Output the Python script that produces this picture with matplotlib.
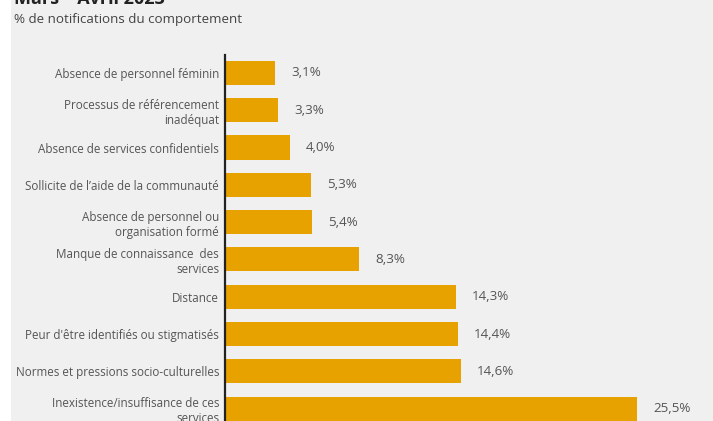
import matplotlib
matplotlib.use("Agg")
import matplotlib.pyplot as plt

categories = [
    "Absence de personnel féminin",
    "Processus de référencement\ninadéquat",
    "Absence de services confidentiels",
    "Sollicite de l\u2019aide de la communauté",
    "Absence de personnel ou\norganisation formé",
    "Manque de connaissance  des\nservices",
    "Distance",
    "Peur d'être identifiés ou stigmatisés",
    "Normes et pressions socio-culturelles",
    "Inexistence/insuffisance de ces\nservices",
]
values = [3.1, 3.3, 4.0, 5.3, 5.4, 8.3, 14.3, 14.4, 14.6, 25.5]
value_labels = ["3,1%", "3,3%", "4,0%", "5,3%", "5,4%", "8,3%", "14,3%", "14,4%", "14,6%", "25,5%"]
title = "Mars \u2013 Avril 2023"
subtitle = "% de notifications du comportement"

W, H = 713, 421
fig = plt.figure(figsize=(W / 100, H / 100), dpi=100)
fig.patch.set_facecolor("#f0f0f0")
# white strip on left
fig.patches.append(plt.Rectangle((0, 0), 11 / W, 1, transform=fig.transFigure,
                                 facecolor="white", edgecolor="none", zorder=0))

FONT = ["Open Sans", "DejaVu Sans"]
TXT = "#555555"

ax_left, ax_top, ax_bottom_px = 225, 55, 428
ax = fig.add_axes([ax_left / W, 1 - ax_bottom_px / H, (W - ax_left) / W, (ax_bottom_px - ax_top) / H])
ax.set_facecolor("none")

ypos = list(range(len(categories)))
ax.barh(ypos, values, height=0.645, color="#E8A200", zorder=2)
ax.set_ylim(9.52, -0.48)
ax.set_xlim(0, (W - ax_left) / 16.16)

for y, v, lab in zip(ypos, values, value_labels):
    ax.annotate(lab, (v, y), xytext=(16, 0), textcoords="offset pixels",
                va="center", ha="left", fontsize=9.6, color=TXT, family=FONT)

ax.set_yticks(ypos)
ax.set_yticklabels(categories, fontsize=8.4, color=TXT, family=FONT, linespacing=1.22)
ax.tick_params(axis="y", length=0, pad=4.3)
ax.set_xticks([])
for s in ["top", "right", "bottom"]:
    ax.spines[s].set_visible(False)
ax.spines["left"].set_color("#222222")
ax.spines["left"].set_linewidth(1.6)

fig.text(14 / W, 1 - 4 / H, title, fontsize=13, fontweight="bold", color="#222222",
         family=FONT, ha="left", va="baseline")
fig.text(14 / W, 1 - 19 / H, subtitle, fontsize=9.6, color="#444444",
         family=FONT, ha="left", va="center")

fig.savefig("out.png", dpi=100, facecolor=fig.get_facecolor())
